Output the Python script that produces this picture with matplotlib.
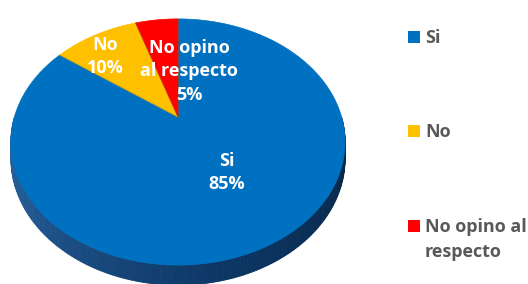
import numpy as np
import matplotlib
matplotlib.use("Agg")
import matplotlib.pyplot as plt
from matplotlib.patches import Polygon, Rectangle
from matplotlib.colors import to_rgb

# ---- data ----
categories = ["Si", "No", "No opino al respecto"]
values = [85, 10, 5]
colors = ["#0070C0", "#FFC000", "#FF0000"]
pie_labels = ["Si\n85%", "No\n10%", "No opino\nal respecto\n5%"]
legend_labels = ["Si", "No", "No opino al\nrespecto"]

# ---- layout (pixel coordinates, y down) ----
W, H = 528, 284
X0, Y0 = 178, 117      # apex of the pie
A, B = 163.6, 118.0    # radii before perspective
K = 0.203              # perspective factor
D = 16.0               # depth of the side
label_pos = [(227, 172.5), (105, 56.5), (189, 71.5)]
legend_x, legend_box = 408, 12
legend_y = [37, 131, 226]
legend_line_step = 25

fig = plt.figure(figsize=(W / 100, H / 100), dpi=100)
ax = fig.add_axes([0, 0, 1, 1])
ax.set_xlim(0, W)
ax.set_ylim(H, 0)
ax.axis("off")

font = "Open Sans"


def proj(theta_deg, r=1.0, depth=0.0):
    t = np.radians(theta_deg)
    u, v = r * np.cos(t), r * np.sin(t)
    s = 1.0 / (1.0 + K * v)
    return X0 + A * u * s, Y0 - B * v * s + depth * s


# side (front) with a gradient
c_left = np.array(to_rgb("#2E6AAA"))
c_mid = np.array(to_rgb("#0D3766"))
c_right = np.array(to_rgb("#062340"))
thetas = np.linspace(180, 360, 181)
for t1, t2 in zip(thetas[:-1], thetas[1:]):
    p = [proj(t1), proj(t2), proj(t2, depth=D), proj(t1, depth=D)]
    f = (t1 - 180) / 180.0
    if f < 0.55:
        c = c_left + (c_mid - c_left) * (f / 0.55)
    else:
        c = c_mid + (c_right - c_mid) * ((f - 0.55) / 0.45)
    ax.add_patch(Polygon(p, closed=True, facecolor=c, edgecolor=c, lw=0.6, zorder=1))

# top face wedges, starting at 12 o'clock going clockwise
total = float(sum(values))
start = 90.0
for val, col in zip(values, colors):
    sweep = 360.0 * val / total
    angs = np.linspace(start, start - sweep, max(3, int(sweep * 2)))
    pts = [(X0, Y0)] + [proj(a) for a in angs]
    ax.add_patch(Polygon(pts, closed=True, facecolor=col, edgecolor=col, lw=0.5, zorder=2))
    start -= sweep

# thin darker boundary lines between wedges
start = 90.0
for val in values:
    x1, y1 = proj(start)
    ax.plot([X0, x1], [Y0, y1], color="#7a6a2a", lw=0.5, alpha=0.5, zorder=3)
    start -= 360.0 * val / total

# labels
for lab, (lx, ly) in zip(pie_labels, label_pos):
    ax.text(lx, ly, lab, ha="center", va="center", color="white", fontsize=13,
            fontweight="bold", family=font, linespacing=1.38, zorder=4)

# legend
for lab, col, ly in zip(legend_labels, colors, legend_y):
    ax.add_patch(Rectangle((legend_x, ly - legend_box / 2), legend_box, legend_box,
                           facecolor=col, edgecolor="none", zorder=4))
    for i, line in enumerate(lab.split("\n")):
        ax.text(legend_x + legend_box + 5, ly + 6 + i * legend_line_step, line,
                ha="left", va="baseline", color="#595959",
                fontsize=13, fontweight="bold", family=font, zorder=4)

fig.savefig("out.png", dpi=100, facecolor="white")
